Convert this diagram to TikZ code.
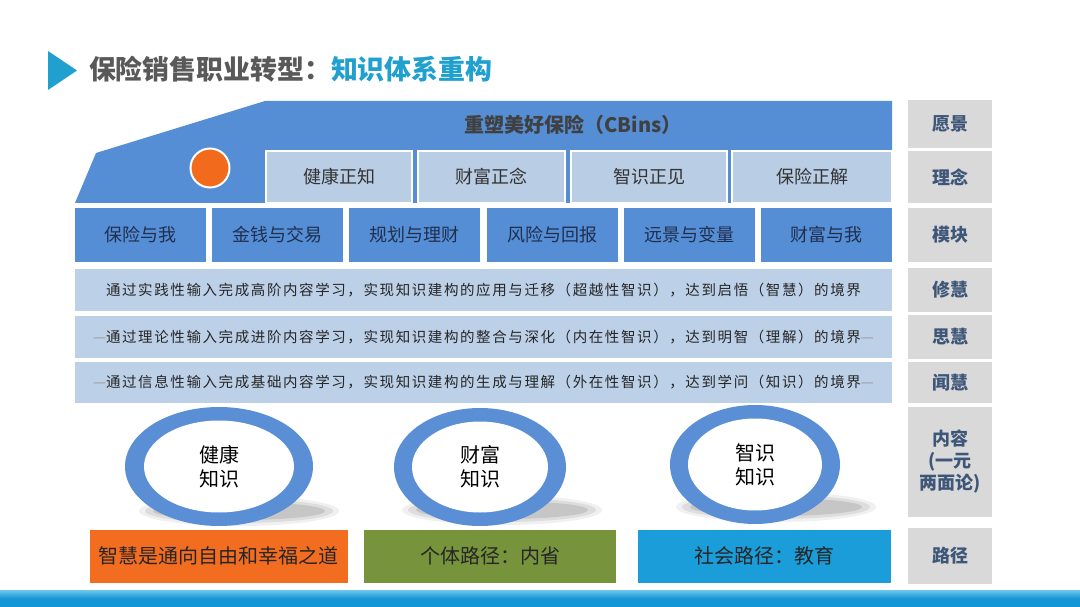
\documentclass[tikz,border=0pt]{standalone}
\usepackage{fontspec}
\setmainfont{Noto Sans CJK SC}
\newfontfamily\stripfont[LetterSpace=11]{Noto Sans CJK SC}
\usetikzlibrary{shapes.geometric}
\definecolor{bannerblue}{HTML}{558ED5}
\definecolor{lightblue}{HTML}{B9CDE5}
\definecolor{striplight}{HTML}{BCD0E8}
\definecolor{labelgray}{HTML}{D9D9D9}
\definecolor{labeltext}{HTML}{3E5678}
\definecolor{circorange}{HTML}{F26A1B}
\definecolor{boxorange}{HTML}{F36D21}
\definecolor{boxgreen}{HTML}{77933C}
\definecolor{boxblue}{HTML}{1B9DD9}
\definecolor{barblue}{HTML}{1496D6}
\definecolor{barlight}{HTML}{6CC6EC}
\definecolor{titlegray}{HTML}{595959}
\definecolor{titleteal}{HTML}{1FA0CF}
\definecolor{ringblue}{HTML}{5A8FD6}
\definecolor{navytext}{HTML}{1F2F4F}
\begin{document}
\begin{tikzpicture}[x=1pt,y=-1pt,
  every node/.style={inner sep=0pt, outer sep=0pt},
  ideabox/.style={rectangle, fill=lightblue, draw=white, line width=1.5pt,
    minimum height=52pt, text=black!80, font=\fontsize{18}{20}\selectfont},
  modbox/.style={rectangle, fill=bannerblue, minimum width=131pt, minimum height=54pt,
    text=navytext, font=\fontsize{18}{20}\selectfont},
  stripbox/.style={rectangle, fill=striplight, minimum width=817pt,
    text=black!85, font=\stripfont\fontsize{14.5}{16}\selectfont},
  labelbox/.style={rectangle, fill=labelgray, minimum width=84pt, text=labeltext,
    font=\bfseries\fontsize{18}{22}\selectfont, align=center},
  pathbox/.style={rectangle, minimum height=52.5pt, text=black!85,
    font=\fontsize{20}{22}\selectfont},
  ringtext/.style={ellipse, fill=white, text=black, align=center,
    font=\fontsize{20}{24}\selectfont}
]
\useasboundingbox (0,0) rectangle (1080,607);
\fill[white] (0,0) rectangle (1080,607);

% title
\fill[titleteal] (48,51) -- (77,70.5) -- (48,90) -- cycle;
\node[anchor=west, text=titlegray, font=\bfseries\fontsize{26.9}{30}\selectfont] (title) at (89,69.6)
  {保险销售职业转型：\textcolor{titleteal}{知识体系重构}};

% banner
\fill[bannerblue] (265,101) -- (892,101) -- (892,203) -- (75,203) -- (96,153) -- cycle;
\node[text=black!75, font=\bfseries\fontsize{20}{22}\selectfont] (vision) at (573,125) {重塑美好保险（CBins）};
\node[circle, fill=circorange, draw=white, line width=2pt, minimum size=39pt] (dot) at (210,168) {};

% ideas row
\node[ideabox, minimum width=146pt] (i1) at (339,177) {健康正知};
\node[ideabox, minimum width=147pt] (i2) at (491.5,177) {财富正念};
\node[ideabox, minimum width=156pt] (i3) at (649,177) {智识正见};
\node[ideabox, minimum width=160pt] (i4) at (812,177) {保险正解};

% modules row
\node[modbox] (m1) at (140.5,235) {保险与我};
\node[modbox] (m2) at (277.7,235) {金钱与交易};
\node[modbox] (m3) at (414.9,235) {规划与理财};
\node[modbox] (m4) at (552.1,235) {风险与回报};
\node[modbox] (m5) at (689.3,235) {远景与变量};
\node[modbox] (m6) at (826.5,235) {财富与我};

% strips
\node[stripbox, minimum height=42.5pt] (s1) at (483.5,289.75)
  {通过实践性输入完成高阶内容学习，实现知识建构的应用与迁移（超越性智识），达到启悟（智慧）的境界};
\node[stripbox, minimum height=41.5pt] (s2) at (483.5,336.75)
  {\textcolor{black!40}{—}通过理论性输入完成进阶内容学习，实现知识建构的整合与深化（内在性智识），达到明智（理解）的境界\textcolor{black!40}{—}};
\node[stripbox, minimum height=41.5pt] (s3) at (483.5,382.25)
  {\textcolor{black!40}{—}通过信息性输入完成基础内容学习，实现知识建构的生成与理解（外在性智识），达到学问（知识）的境界\textcolor{black!40}{—}};

% right labels
\node[labelbox, minimum height=48pt] (l1) at (950,124) {愿景};
\node[labelbox, minimum height=52pt] (l2) at (950,177) {理念};
\node[labelbox, minimum height=54pt] (l3) at (950,235) {模块};
\node[labelbox, minimum height=44pt] (l4) at (950,290) {修慧};
\node[labelbox, minimum height=43.5pt] (l5) at (950,336.75) {思慧};
\node[labelbox, minimum height=41pt] (l6) at (950,382.5) {闻慧};
\node[labelbox, minimum height=109.5pt] (l7) at (950,462) {内容\\(一元\\两面论)};
\node[labelbox, minimum height=55.5pt] (l8) at (950,555.75) {路径};

% ellipse shadows
\foreach \cx/\cy in {239/511, 502/510, 776/507} {
  \fill[black, opacity=0.06] (\cx,\cy) ellipse (100 and 15);
  \fill[black, opacity=0.08] (\cx,\cy) ellipse (94 and 12);
  \fill[black, opacity=0.10] (\cx,\cy) ellipse (86 and 9);
}
% rings
\fill[ringblue] (219,466.5) ellipse (94 and 59.5);
\node[ringtext, minimum width=150pt, minimum height=92pt] (e1) at (219,466.5) {健康\\知识};
\fill[ringblue] (480,467) ellipse (86 and 59);
\node[ringtext, minimum width=136pt, minimum height=91pt] (e2) at (480,467) {财富\\知识};
\fill[ringblue] (755,464.5) ellipse (85 and 59.5);
\node[ringtext, minimum width=134pt, minimum height=92pt] (e3) at (755,464.5) {智识\\知识};

% path boxes
\node[pathbox, fill=boxorange, minimum width=257.5pt] (p1) at (218.75,556.25) {智慧是通向自由和幸福之道};
\node[pathbox, fill=boxgreen, minimum width=252pt] (p2) at (490,556.25) {个体路径：内省};
\node[pathbox, fill=boxblue, minimum width=253pt] (p3) at (764,556.25) {社会路径：教育};

% bottom bar
\shade[top color=barlight, bottom color=barblue, middle color=barblue] (0,590) rectangle (1080,607);
\end{tikzpicture}
\end{document}
